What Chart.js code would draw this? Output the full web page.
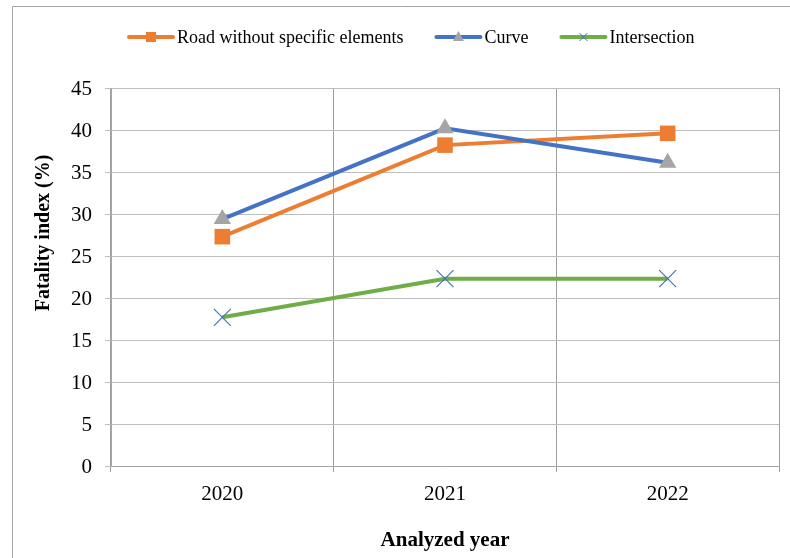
<!DOCTYPE html>
<html>
<head>
<meta charset="utf-8">
<title>Fatality index by analyzed year</title>
<script src="https://cdn.jsdelivr.net/npm/chart.js@4.4.1/dist/chart.umd.min.js"></script>
<style>
  html, body { margin: 0; padding: 0; background: #ffffff; }
  #wrap { width: 790px; height: 558px; }
</style>
</head>
<body>
<div id="wrap"><canvas id="chart" width="790" height="558"></canvas></div>
<script>
// Categories and series
const years = ['2020', '2021', '2022'];
const roadValues = [27.3, 38.2, 39.6];
const curveValues = [29.4, 40.2, 36.1];
const intersectionValues = [17.7, 22.3, 22.3];
const seriesNames = ['Road without specific elements', 'Curve', 'Intersection'];
const yTitle = 'Fatality index (%)';
const xTitle = 'Analyzed year';

const SERIF = '"Liberation Serif", "Times New Roman", serif';
const ORANGE = '#ed7d31', BLUE = '#4472c4', GREEN = '#70ad47', GREY = '#a5a5a5';

// Frame, legend and rotated y-axis title
const decorations = {
  id: 'decorations',
  afterDraw(chart) {
    const ctx = chart.ctx;
    ctx.save();
    // outer frame (left and top edges)
    ctx.strokeStyle = '#a6a6a6';
    ctx.lineWidth = 1;
    ctx.beginPath();
    ctx.moveTo(12.5, 558);
    ctx.lineTo(12.5, 6.5);
    ctx.lineTo(790, 6.5);
    ctx.stroke();

    // legend
    ctx.font = '18px ' + SERIF;
    ctx.textBaseline = 'middle';
    ctx.textAlign = 'left';
    const ly = 37;
    let x = 127;
    chart.data.datasets.forEach((ds, i) => {
      const x0 = x, x1 = x + 48;
      ctx.strokeStyle = ds.borderColor;
      ctx.lineWidth = 4;
      ctx.lineCap = 'round';
      ctx.beginPath();
      ctx.moveTo(x0 + 2, ly);
      ctx.lineTo(x1 - 2, ly);
      ctx.stroke();
      const cx = (x0 + x1) / 2;
      if (ds.pointStyle === 'rect') {
        ctx.fillStyle = ds.pointBackgroundColor;
        ctx.fillRect(cx - 5, ly - 5, 10, 10);
      } else if (ds.pointStyle === 'triangle') {
        ctx.fillStyle = ds.pointBackgroundColor;
        ctx.beginPath();
        ctx.moveTo(cx, ly - 6);
        ctx.lineTo(cx + 5.5, ly + 4);
        ctx.lineTo(cx - 5.5, ly + 4);
        ctx.closePath();
        ctx.fill();
      } else {
        ctx.strokeStyle = ds.pointBorderColor;
        ctx.lineWidth = 1;
        ctx.lineCap = 'butt';
        ctx.beginPath();
        ctx.moveTo(cx - 4, ly - 4); ctx.lineTo(cx + 4, ly + 4);
        ctx.moveTo(cx + 4, ly - 4); ctx.lineTo(cx - 4, ly + 4);
        ctx.stroke();
      }
      ctx.fillStyle = '#000000';
      ctx.fillText(ds.label, x1 + 2, ly + 1);
      x = x1 + 2 + ctx.measureText(ds.label).width + 31;
    });

    // y-axis title
    ctx.font = 'bold 20px ' + SERIF;
    ctx.textAlign = 'center';
    ctx.textBaseline = 'middle';
    ctx.fillStyle = '#000000';
    ctx.translate(44, 233);
    ctx.rotate(-Math.PI / 2);
    ctx.fillText(yTitle, 0, 0);
    ctx.restore();
  }
};

new Chart(document.getElementById('chart'), {
  type: 'line',
  data: {
    labels: years,
    datasets: [
      {
        label: seriesNames[0],
        data: roadValues,
        borderColor: ORANGE,
        backgroundColor: ORANGE,
        borderWidth: 4,
        pointStyle: 'rect',
        pointRadius: 11,
        pointBackgroundColor: ORANGE,
        pointBorderColor: ORANGE,
        pointBorderWidth: 0,
        order: 3
      },
      {
        label: seriesNames[1],
        data: curveValues,
        borderColor: BLUE,
        backgroundColor: BLUE,
        borderWidth: 4,
        pointStyle: 'triangle',
        pointRadius: 10,
        pointBackgroundColor: GREY,
        pointBorderColor: GREY,
        pointBorderWidth: 0,
        order: 2
      },
      {
        label: seriesNames[2],
        data: intersectionValues,
        borderColor: GREEN,
        backgroundColor: GREEN,
        borderWidth: 4,
        pointStyle: 'crossRot',
        pointRadius: 12,
        pointBackgroundColor: BLUE,
        pointBorderColor: BLUE,
        pointBorderWidth: 1.2,
        order: 1
      }
    ]
  },
  options: {
    responsive: false,
    animation: false,
    devicePixelRatio: 1,
    layout: { autoPadding: false, padding: { left: 0, top: 88, right: 11, bottom: 0 } },
    plugins: {
      legend: { display: false },
      tooltip: { enabled: false }
    },
    elements: { line: { tension: 0, fill: false } },
    scales: {
      x: {
        type: 'category',
        offset: true,
        grid: { offset: true, color: '#9e9e9e', lineWidth: 1, tickLength: 6, drawTicks: true },
        border: { color: '#a6a6a6', width: 1 },
        ticks: { color: '#000000', font: { family: SERIF, size: 21 }, padding: 10 },
        title: {
          display: true,
          text: xTitle,
          color: '#000000',
          font: { family: SERIF, size: 21, weight: 'bold' },
          padding: { top: 0, bottom: 5 }
        },
        afterFit(scale) { scale.height = 92; }
      },
      y: {
        min: 0,
        max: 45,
        ticks: { stepSize: 5, color: '#000000', font: { family: SERIF, size: 21 }, padding: 13, labelOffset: 1 },
        grid: { color: '#bdbdbd', lineWidth: 1, tickLength: 6, drawTicks: true },
        border: { color: '#a6a6a6', width: 1 },
        afterFit(scale) { scale.width = 111; }
      }
    }
  },
  plugins: [decorations]
});
</script>
</body>
</html>
